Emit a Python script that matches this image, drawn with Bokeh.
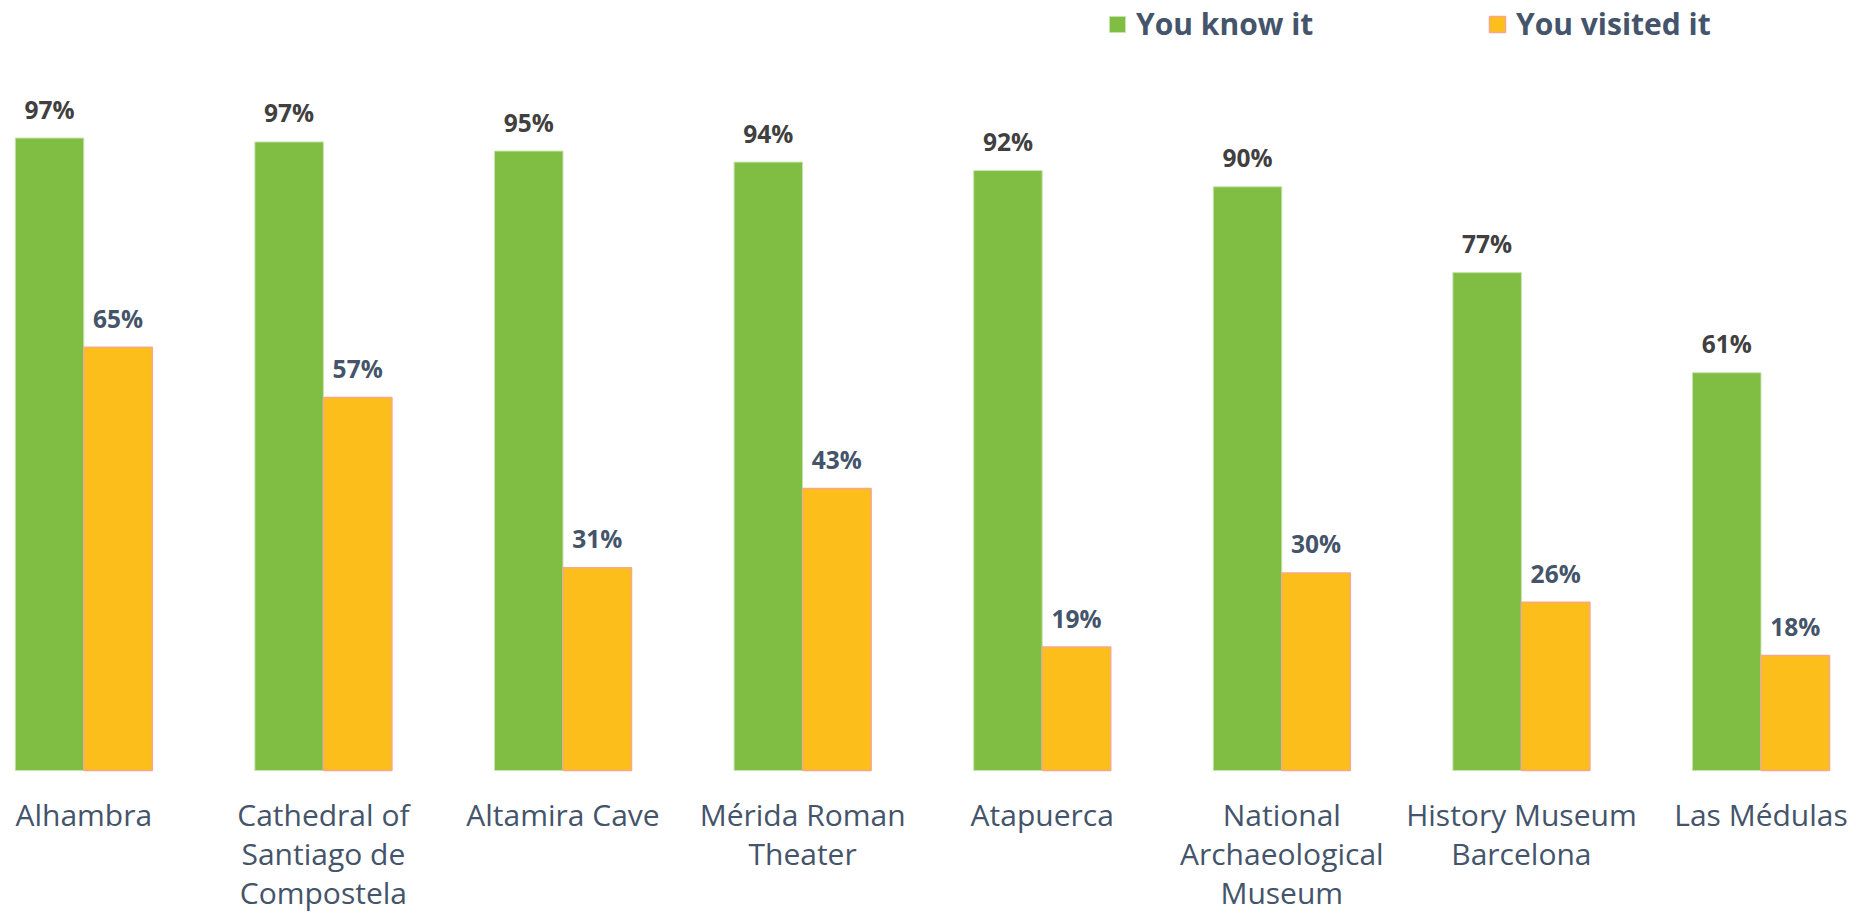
from bokeh.plotting import figure
from bokeh.models import ColumnDataSource, Legend, LegendItem, Range1d
from bokeh.core.properties import value
from bokeh.embed import file_html
from bokeh.resources import INLINE

# ---- data ----
sites = ["Alhambra", "Cathedral of\nSantiago de\nCompostela", "Altamira Cave",
         "Mérida Roman\nTheater", "Atapuerca", "National\nArchaeological\nMuseum",
         "History Museum\nBarcelona", "Las Médulas"]
know_it = [97.3, 96.7, 95.3, 93.6, 92.3, 89.8, 76.6, 61.2]
visited_it = [65.1, 57.4, 31.2, 43.4, 19.0, 30.4, 25.9, 17.7]
series_names = ["You know it", "You visited it"]

GREEN = "#7fbe43"
ORANGE = "#fbbe1b"
TEXT = "#44546a"
DARK = "#404040"
FONT = value("Open Sans")

W, H = 1865, 917
px_per_cat = 239.6
px_per_pct = 6.50
base_px = 770.0
left_px = 83.3

x0 = -left_px / px_per_cat
y1 = base_px / px_per_pct
y0 = -(H - base_px) / px_per_pct

p = figure(width=W, height=H, output_backend="svg", toolbar_location=None,
           x_range=Range1d(x0, x0 + W / px_per_cat), y_range=Range1d(y0, y1),
           min_border=0, min_border_left=0, min_border_right=0,
           min_border_top=0, min_border_bottom=0)
p.axis.visible = False
p.grid.visible = False
p.outline_line_color = None
p.background_fill_color = "white"
p.border_fill_color = "white"

bw = 0.286
idx = list(range(len(sites)))
src = ColumnDataSource(dict(
    xg=[i - bw / 2 for i in idx], xo=[i + bw / 2 for i in idx], xc=idx,
    know=know_it, vis=visited_it, site=sites,
    know_lbl=[f"{v:.0f}%" for v in know_it],
    vis_lbl=[f"{v:.0f}%" for v in visited_it],
    zero=[0] * len(idx),
))

rg = p.vbar(x="xg", top="know", bottom=0, width=bw, source=src,
            fill_color=GREEN, line_color="#c9e3b0", line_width=1)
ro = p.vbar(x="xo", top="vis", bottom=0, width=bw, source=src,
            fill_color=ORANGE, line_color="#f6a98a", line_width=1.5)

p.text(x="xg", y="know", text="know_lbl", source=src, text_align="center",
       text_baseline="alphabetic", y_offset=-29, text_font=FONT,
       text_font_style="bold", text_font_size="24.5px", text_color=DARK)
p.text(x="xo", y="vis", text="vis_lbl", source=src, text_align="center",
       text_baseline="alphabetic", y_offset=-29, text_font=FONT,
       text_font_style="bold", text_font_size="24.5px", text_color=TEXT)

p.text(x="xc", y="zero", text="site", source=src, text_align="center",
       text_baseline="top", y_offset=23, text_font=FONT,
       text_font_size="30px", text_color=TEXT, text_line_height=0.96)

legend = Legend(items=[LegendItem(label=series_names[0], renderers=[rg]),
                       LegendItem(label=series_names[1], renderers=[ro])],
                orientation="horizontal", location=(1107, 873),
                glyph_width=20, glyph_height=20, label_standoff=9,
                label_width=200, spacing=151, padding=0, margin=0,
                label_height=40,
                label_text_font="Open Sans", label_text_font_style="bold",
                label_text_font_size="30px", label_text_color=TEXT,
                border_line_color=None, background_fill_alpha=0)
p.add_layout(legend)

open("out.html", "w").write(file_html(p, INLINE))
